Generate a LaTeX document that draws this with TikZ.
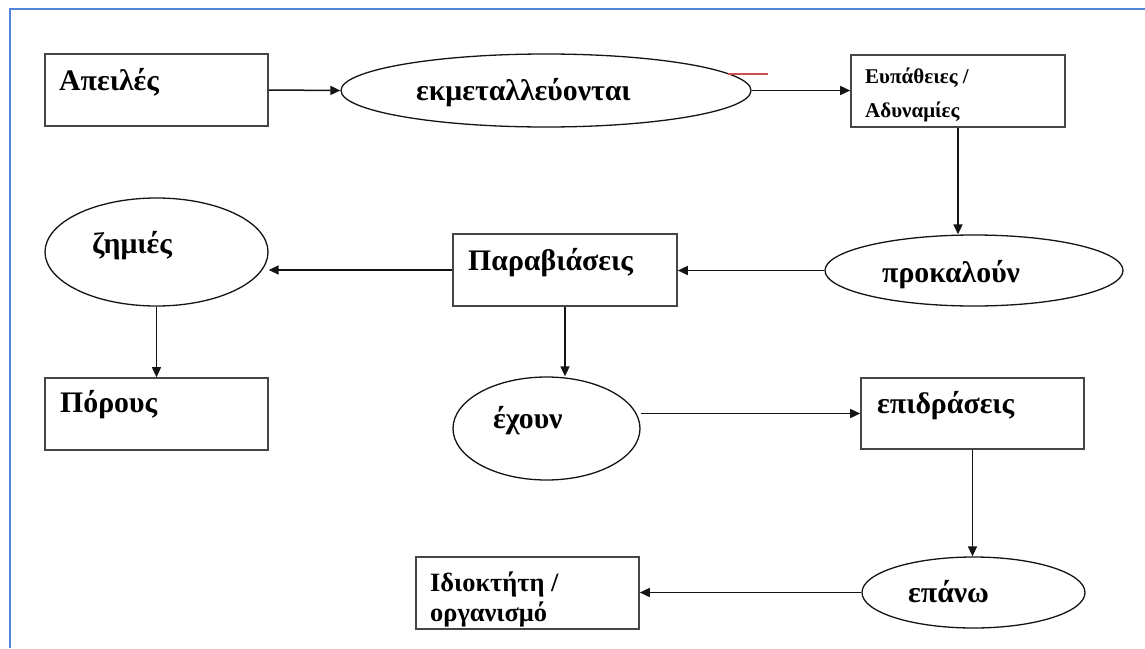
\documentclass[tikz,border=0pt]{standalone}
\usepackage{fontspec}
\setmainfont{Liberation Serif}
\usetikzlibrary{shapes.geometric,arrows.meta}
\definecolor{framecol}{RGB}{84,132,218}
\definecolor{boxline}{RGB}{70,70,70}
\definecolor{linecol}{RGB}{20,20,20}
\definecolor{redmark}{RGB}{200,80,80}
\tikzset{
  box/.style={draw=boxline, line width=1.6pt, rectangle, inner sep=0pt, fill=white},
  oval/.style={draw=linecol, line width=1.3pt, ellipse, inner sep=0pt, fill=white},
  lbl/.style={anchor=base west, inner sep=0pt, font=\bfseries\fontsize{29.8}{34}\selectfont},
  lblsmall/.style={anchor=base west, inner sep=0pt, font=\bfseries\fontsize{21}{25}\selectfont},
  lblmid/.style={anchor=base west, inner sep=0pt, font=\bfseries\fontsize{26.4}{32}\selectfont},
  conn/.style={draw=linecol, line width=1.5pt, -{Triangle[length=10pt,width=9pt]}}
}
\begin{document}
\begin{tikzpicture}[x=1pt,y=-1pt]
  \useasboundingbox (0,0) rectangle (1145,648);
  % page frame (top and left edges)
  \draw[framecol, line width=2pt] (10,648) -- (10,9) -- (1145,9);

  % shapes
  \node[box, minimum width=223pt, minimum height=72pt] (apeil) at (156.5,90) {};
  \node[oval, minimum width=410pt, minimum height=73pt] (ekm) at (546,90.5) {};
  \node[box, minimum width=214pt, minimum height=72pt] (eup) at (958,91) {};
  \node[oval, minimum width=298pt, minimum height=71pt] (prok) at (974,270.5) {};
  \node[box, minimum width=224pt, minimum height=72pt] (par) at (565,270) {};
  \node[oval, minimum width=223pt, minimum height=108pt] (zem) at (156.5,252) {};
  \node[box, minimum width=223pt, minimum height=72pt] (por) at (156.5,414) {};
  \node[oval, minimum width=187pt, minimum height=103pt] (ech) at (546.5,428.5) {};
  \node[box, minimum width=223pt, minimum height=71pt] (epi) at (972.5,413.5) {};
  \node[oval, minimum width=223pt, minimum height=71pt] (epa) at (973.5,592.5) {};
  \node[box, minimum width=223pt, minimum height=72pt] (idi) at (527.5,593) {};

  % labels
  \node[lbl] (tApeil) at (59,90) {Απειλές};
  \node[lbl] (tEkm) at (416,100) {εκμεταλλεύονται};
  \node[lblsmall] (tEup1) at (865,83) {Ευπάθειες /};
  \node[lblsmall] (tEup2) at (865,117) {Αδυναμίες};
  \node[lbl] (tProk) at (882,282) {προκαλούν};
  \node[lbl] (tPar) at (468,270) {Παραβιάσεις};
  \node[lbl] (tZem) at (92,253) {ζημιές};
  \node[lbl] (tPor) at (60,412) {Πόρους};
  \node[lbl] (tEch) at (493,428) {έχουν};
  \node[lbl] (tEpi) at (877,413) {επιδράσεις};
  \node[lbl] (tEpa) at (908,602) {επάνω};
  \node[lblmid] (tIdi1) at (430,591) {Ιδιοκτήτη /};
  \node[lblmid] (tIdi2) at (430,621) {οργανισμό};

  % small red stroke at the upper right of the oval
  \coordinate (redA) at (728,74);
  \coordinate (redB) at (768,74);
  \draw[redmark, line width=1.4pt] (redA) -- (redB);

  % connectors
  \draw[conn] (apeil.east) -- (ekm.west);
  \draw[conn] (ekm.east) -- (ekm.east -| eup.west);
  \draw[conn] (eup.south) -- (eup.south |- prok.north);
  \draw[conn] (prok.west) -- (prok.west -| par.east);
  \draw[conn] (par.west) -- (par.west -| zem.east);
  \draw[conn] (zem.south) -- (por.north);
  \draw[conn] (par.south) -- (par.south |- ech.north);
  \draw[conn] (ech.east |- epi.west) -- (epi.west);
  \draw[conn] (epi.south) -- (epi.south |- epa.north);
  \draw[conn] (epa.west) -- (epa.west -| idi.east);
\end{tikzpicture}
\end{document}
